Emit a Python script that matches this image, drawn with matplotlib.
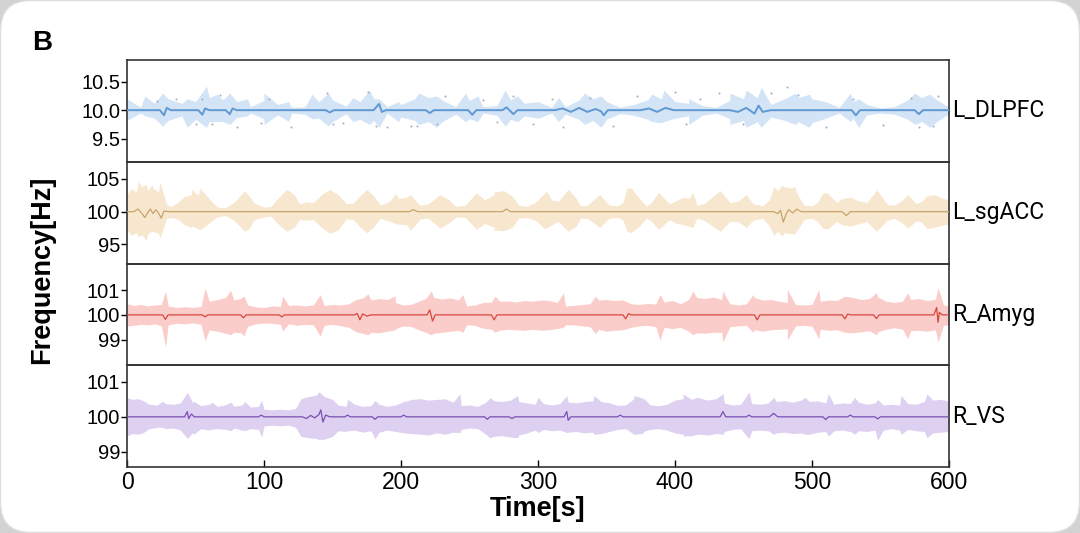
import numpy as np
import matplotlib.pyplot as plt
from matplotlib.patches import FancyBboxPatch
from matplotlib.transforms import IdentityTransform

plt.rcParams['font.family'] = ['Liberation Sans', 'DejaVu Sans']

# ---------------- data (deviation from the mean frequency, Hz) ----------------
regions = ['L_DLPFC', 'L_sgACC', 'R_Amyg', 'R_VS']
centers = [10.0, 100.0, 100.0, 100.0]

# L_DLPFC
dlpfc_t = list(range(0, 601, 10))
dlpfc_hi = [0.20, 0.05, 0.12, 0.20, 0.12, 0.15, 0.22, 0.18, 0.15, 0.06,
            0.17, 0.10, 0.05, 0.06, 0.15, 0.18, 0.07, 0.15, 0.20, 0.06,
            0.10, 0.20, 0.22, 0.18, 0.06, 0.17, 0.06, 0.08, 0.18, 0.12,
            0.15, 0.05, 0.06, 0.18, 0.20, 0.15, 0.05, 0.10, 0.18, 0.20,
            0.15, 0.12, 0.08, 0.05, 0.17, 0.20, 0.22, 0.10, 0.20, 0.22,
            0.20, 0.15, 0.05, 0.15, 0.10, 0.04, 0.06, 0.18, 0.22, 0.20, 0.05]
dlpfc_lo = [0.18, 0.05, 0.14, 0.18, 0.10, 0.16, 0.20, 0.20, 0.13, 0.05,
            0.15, 0.08, 0.05, 0.07, 0.14, 0.20, 0.06, 0.16, 0.18, 0.05,
            0.12, 0.18, 0.20, 0.20, 0.07, 0.15, 0.05, 0.09, 0.16, 0.10,
            0.14, 0.05, 0.07, 0.16, 0.18, 0.16, 0.06, 0.09, 0.16, 0.22,
            0.14, 0.10, 0.09, 0.05, 0.15, 0.18, 0.20, 0.12, 0.18, 0.20,
            0.22, 0.14, 0.05, 0.14, 0.08, 0.05, 0.07, 0.16, 0.20, 0.22, 0.06]
dlpfc_spk_t = [13, 26, 44, 58, 66, 75, 88, 100, 118, 135, 147, 165, 177, 184, 198, 213, 226,
               247, 256, 276, 285, 315, 334, 346, 383, 392, 410, 440, 452, 463, 488, 498,
               528, 534, 575, 586]
dlpfc_spk_hi = [0.25, 0.30, 0.20, 0.42, 0.28, 0.30, 0.20, 0.30, 0.15, 0.28, 0.30, 0.22, 0.35, 0.20,
                0.15, 0.30, 0.25, 0.30, 0.25, 0.35, 0.25, 0.22, 0.30, 0.25, 0.28, 0.35, 0.20,
                0.30, 0.35, 0.40, 0.30, 0.28, 0.30, 0.20, 0.30, 0.28]
dlpfc_spk_lo = [0.10, 0.28, 0.30, 0.30, 0.20, 0.25, 0.10, 0.25, 0.20, 0.15, 0.28, 0.20, 0.25, 0.30,
                0.20, 0.25, 0.30, 0.20, 0.20, 0.28, 0.20, 0.20, 0.25, 0.30, 0.20, 0.20, 0.25,
                0.25, 0.30, 0.30, 0.25, 0.30, 0.20, 0.30, 0.25, 0.30]
dlpfc_mean_t = [0, 24, 27, 29, 32, 52, 55, 57, 60, 72, 75, 77, 80, 145, 148, 151, 180, 184, 186, 189,
                218, 221, 224, 249, 252, 255, 274, 277, 280, 282, 285, 312, 318, 324, 330, 336, 342,
                346, 348, 351, 375, 381, 387, 393, 399, 440, 446, 452, 458, 461, 464, 470, 529, 532,
                535, 575, 578, 581, 600]
dlpfc_mean_v = [0, 0, -0.09, 0.04, 0, 0, -0.08, 0.03, 0, 0, -0.07, 0.03, 0, 0, -0.04, 0, 0, 0.11,
                -0.03, 0, 0, -0.05, 0, 0, -0.08, 0, 0, 0.05, -0.02, -0.07, 0, 0, 0.03, -0.03, 0.04,
                -0.03, 0.02, -0.02, -0.09, 0, 0, 0.03, -0.03, 0.04, 0, 0, -0.03, 0.04, -0.06, 0.08,
                -0.03, 0, 0, -0.09, 0, 0, -0.07, 0, 0]
dlpfc_dot_t = [22, 36, 50, 55, 62, 68, 80, 98, 104, 120, 146, 150, 158, 176, 182, 190, 207, 212,
               226, 232, 260, 270, 282, 296, 310, 318, 338, 355, 372, 400, 408, 418, 432, 450,
               470, 482, 490, 510, 530, 552, 572, 578, 588, 592]
dlpfc_dot_v = [0.16, 0.20, -0.25, 0.20, -0.25, 0.26, -0.30, -0.22, 0.20, -0.30, 0.30, -0.25, -0.22,
               0.32, -0.28, -0.30, -0.28, -0.27, -0.25, 0.25, 0.18, -0.20, 0.25, -0.25, 0.20, -0.30,
               0.22, -0.28, 0.25, 0.32, -0.25, 0.20, 0.30, -0.24, 0.30, 0.40, 0.27, -0.30, 0.20,
               -0.26, 0.22, -0.30, -0.28, 0.25]

# L_sgACC
sgacc_t = [0, 3, 7, 11, 15, 19, 23, 26.5, 29, 33, 37.5, 42, 47, 52, 57, 62, 66, 72, 78, 86,
           93, 100, 105, 110, 116.5, 122, 126, 131, 136, 142, 148, 154, 160, 165, 170, 175, 180,
           185, 192, 198, 204, 210, 214, 220, 228.5, 235, 240, 247, 255, 261, 268, 275, 281, 286,
           292, 298, 305, 310, 315, 322, 328, 331, 336, 345, 352, 358, 362, 368, 374, 379, 382,
           388, 396, 400, 406, 410, 416, 421, 433, 440, 446, 452, 457, 464, 469, 475, 480, 485,
           490, 494, 500, 504, 511, 518, 522, 528, 535, 540, 547, 555, 560, 565, 570, 576, 580,
           589, 596, 600]
sgacc_hi = [2.6, 3.5, 3.0, 3.8, 3.2, 3.6, 3.0, 2.8, 1.0, 0.8, 1.5, 2.3, 2.6, 2.5, 2.7, 1.5, 0.7,
            0.6, 1.4, 3.2, 1.3, 0.7, 0.8, 2.0, 3.4, 2.6, 1.2, 1.5, 1.4, 2.6, 3.4, 2.6, 1.2, 1.3,
            2.4, 3.4, 2.4, 1.0, 1.6, 2.0, 2.2, 1.8, 1.0, 1.2, 2.6, 1.8, 0.8, 1.0, 2.9, 1.8, 2.6,
            3.2, 2.4, 1.0, 0.8, 1.4, 2.9, 1.8, 1.6, 3.4, 2.0, 0.9, 1.0, 2.6, 1.0, 0.9, 1.4, 3.6,
            2.0, 0.9, 1.2, 2.9, 1.2, 1.6, 2.2, 2.0, 1.0, 1.2, 3.2, 1.4, 1.6, 2.6, 1.2, 0.9, 1.8,
            3.2, 3.8, 3.6, 2.4, 1.0, 0.9, 1.4, 2.9, 1.4, 2.0, 2.2, 1.6, 1.4, 3.2, 1.1, 1.0, 1.6,
            2.6, 1.2, 1.6, 2.6, 2.0, 1.8]
sgacc_lo = [2.8, 3.6, 3.2, 3.5, 3.4, 3.0, 3.3, 2.5, 1.0, 0.9, 1.2, 2.0, 2.4, 2.6, 2.2, 1.4, 0.8,
            0.6, 1.3, 3.0, 1.2, 0.8, 0.7, 1.8, 3.0, 2.4, 1.2, 1.3, 1.2, 2.4, 3.3, 2.8, 1.1, 1.2,
            2.3, 3.2, 2.3, 1.0, 1.5, 1.9, 2.0, 2.1, 1.1, 1.0, 2.5, 1.7, 0.8, 0.9, 2.7, 1.8, 2.4,
            2.9, 2.4, 1.0, 0.9, 1.3, 2.6, 2.0, 1.5, 3.0, 2.2, 1.0, 1.0, 2.4, 1.0, 0.9, 1.3, 3.2,
            2.2, 1.0, 1.3, 2.7, 1.2, 1.7, 2.0, 2.2, 1.0, 1.3, 3.0, 1.5, 1.5, 2.4, 1.3, 1.0, 2.2,
            3.0, 3.2, 3.4, 2.6, 1.2, 1.0, 1.5, 2.7, 1.5, 2.0, 2.2, 1.8, 1.5, 3.0, 1.3, 1.0, 1.6,
            2.5, 1.4, 1.6, 2.4, 2.0, 1.9]
sgacc_spk_t = [8, 14, 18, 24, 47, 53, 89, 196, 207, 268, 306, 365, 413, 472, 478, 487, 508, 547, 584]
sgacc_spk_hi = [4.6, 4.2, 4.0, 4.5, 3.4, 3.6, 2.4, 2.8, 2.6, 3.0, 3.2, 3.6, 2.9, 3.8, 4.0, 3.9,
                2.8, 3.4, 2.4]
sgacc_spk_lo = [3.8, 4.4, 3.0, 4.0, 2.2, 2.8, 2.6, 1.8, 2.8, 2.8, 2.5, 3.0, 2.4, 3.6, 3.7, 3.4,
                2.5, 3.0, 2.6]
sgacc_mean_t = [0, 5, 8, 11, 13, 15, 17, 19, 21, 23, 25, 27, 30, 206, 209, 212, 274, 277, 280,
                472, 475, 477, 479, 481, 483, 486, 489, 492, 495, 522, 525, 528, 600]
sgacc_mean_v = [0, 0, 0.4, -0.3, -0.9, -0.2, 0.4, -0.3, 0.3, -0.2, -1.0, 0.1, 0, 0, 0.3, 0, 0,
                0.4, 0, 0, -0.3, 0.2, -1.6, -0.4, 0.3, -0.2, 0.4, 0, 0, 0, -0.6, 0, 0]

# R_Amyg
amyg_t = [0, 5, 10, 15, 20, 25, 30, 36, 42, 48, 54, 60, 66, 72, 78, 83, 88, 94, 100, 106, 112,
          118, 124, 130, 136, 144, 150, 156, 162, 167, 172, 178, 184, 190, 196, 201, 207, 213,
          218, 224, 230, 236, 242, 248, 254, 260, 266, 272, 278, 284, 290, 296, 302, 308, 314,
          320, 326, 332, 338, 344, 350, 356, 362, 368, 374, 380, 386, 392, 398, 404, 410, 416,
          422, 428, 434, 440, 446, 452, 458, 464, 470, 476, 482, 488, 494, 500, 506, 512, 518,
          524, 530, 536, 542, 548, 554, 560, 566, 572, 578, 584, 590, 596, 600]
amyg_hi = [0.45, 0.38, 0.42, 0.36, 0.40, 0.42, 0.36, 0.30, 0.33, 0.30, 0.34, 0.55, 0.62, 0.70,
           0.60, 0.66, 0.40, 0.32, 0.30, 0.36, 0.34, 0.38, 0.40, 0.36, 0.40, 0.38, 0.42, 0.40,
           0.45, 0.62, 0.68, 0.60, 0.66, 0.62, 0.50, 0.40, 0.42, 0.55, 0.66, 0.70, 0.64, 0.68,
           0.60, 0.36, 0.40, 0.50, 0.52, 0.55, 0.56, 0.52, 0.58, 0.55, 0.60, 0.58, 0.50, 0.36,
           0.38, 0.42, 0.45, 0.60, 0.62, 0.58, 0.60, 0.45, 0.42, 0.46, 0.44, 0.52, 0.58, 0.45,
           0.62, 0.70, 0.66, 0.72, 0.62, 0.45, 0.40, 0.44, 0.70, 0.60, 0.62, 0.55, 0.50, 0.42,
           0.40, 0.42, 0.55, 0.60, 0.58, 0.75, 0.70, 0.62, 0.66, 0.72, 0.55, 0.50, 0.55, 0.62,
           0.66, 0.58, 0.62, 0.40, 0.36]
amyg_lo = [0.45, 0.42, 0.38, 0.40, 0.36, 0.44, 0.40, 0.34, 0.36, 0.32, 0.38, 0.60, 0.66, 0.74,
           0.70, 0.72, 0.46, 0.36, 0.33, 0.34, 0.38, 0.36, 0.42, 0.38, 0.40, 0.42, 0.38, 0.44,
           0.50, 0.68, 0.74, 0.70, 0.72, 0.66, 0.56, 0.45, 0.46, 0.60, 0.70, 0.74, 0.70, 0.66,
           0.62, 0.40, 0.42, 0.54, 0.58, 0.62, 0.58, 0.60, 0.62, 0.58, 0.62, 0.60, 0.55, 0.40,
           0.40, 0.44, 0.48, 0.58, 0.66, 0.62, 0.60, 0.50, 0.44, 0.42, 0.48, 0.50, 0.55, 0.50,
           0.66, 0.72, 0.74, 0.70, 0.70, 0.48, 0.44, 0.42, 0.60, 0.66, 0.60, 0.58, 0.56, 0.44,
           0.42, 0.46, 0.58, 0.62, 0.60, 0.70, 0.72, 0.68, 0.64, 0.68, 0.58, 0.52, 0.58, 0.64,
           0.62, 0.66, 0.60, 0.42, 0.40]
amyg_spk_t = [28.2, 57, 75.5, 85.4, 113.6, 141, 176, 195.6, 222, 245, 268.6, 318.6, 342, 389,
              413, 435, 457, 482, 505, 547, 570, 592]
amyg_spk_hi = [0.95, 1.08, 1.00, 0.76, 0.76, 0.82, 0.85, 0.76, 0.96, 0.82, 0.76, 0.89, 0.76, 0.82,
               0.96, 0.96, 0.82, 1.02, 1.02, 0.90, 0.89, 1.10]
amyg_spk_lo = [1.28, 1.05, 0.80, 0.85, 0.65, 0.85, 0.80, 0.60, 0.80, 0.70, 0.70, 0.50, 0.76, 1.02,
               0.80, 1.09, 0.70, 1.02, 0.96, 0.80, 0.96, 1.09]
amyg_mean_t = [0, 26, 28, 30, 55, 57, 59, 83, 85, 87, 111, 113, 115, 166, 168, 170, 172, 175, 178,
               219, 221, 223, 225, 266, 268, 270, 362, 364, 366, 368, 458, 460, 462, 522, 524, 526,
               528, 545, 547, 549, 589, 591, 592, 593, 595, 600]
amyg_mean_v = [0, 0, -0.18, 0, 0, -0.08, 0, 0, -0.12, 0, 0, -0.08, 0, 0, 0.06, -0.2, 0.04, -0.05,
               0, 0, 0.2, -0.25, 0, 0, -0.2, 0, 0, -0.16, 0.05, 0, 0, -0.2, 0, 0, -0.16, 0.03, 0,
               0, -0.15, 0, 0, 0.3, -0.3, 0.1, 0, 0]

# R_VS
vs_t = [0, 4, 8, 12, 16, 22, 28, 34, 39, 44, 48, 54, 60, 66, 72, 78, 84, 90, 96, 100, 106, 112,
        118, 123, 127, 132, 138, 144, 150, 154, 160, 166, 172, 178, 184, 190, 196, 202, 208, 214,
        220, 226, 232, 238, 244, 250, 256, 262, 268, 274, 280, 286, 292, 298, 304, 310, 316, 322,
        328, 334, 340, 346, 352, 358, 364, 370, 376, 382, 388, 394, 400, 406, 412, 418, 424, 430,
        436, 442, 448, 456, 462, 468, 474, 480, 486, 492, 498, 504, 510, 516, 522, 528, 534, 540,
        546, 552, 558, 564, 570, 576, 582, 588, 594, 600]
vs_hi = [0.55, 0.50, 0.52, 0.46, 0.36, 0.34, 0.38, 0.36, 0.40, 0.70, 0.40, 0.32, 0.36, 0.30, 0.35,
         0.30, 0.34, 0.28, 0.30, 0.22, 0.20, 0.22, 0.20, 0.24, 0.52, 0.58, 0.62, 0.58, 0.50, 0.34,
         0.30, 0.36, 0.30, 0.32, 0.36, 0.30, 0.34, 0.44, 0.50, 0.52, 0.48, 0.50, 0.52, 0.42, 0.32,
         0.34, 0.30, 0.42, 0.46, 0.44, 0.48, 0.44, 0.40, 0.36, 0.38, 0.34, 0.38, 0.42, 0.40, 0.44,
         0.46, 0.44, 0.40, 0.33, 0.34, 0.52, 0.54, 0.34, 0.32, 0.36, 0.48, 0.52, 0.50, 0.54, 0.48,
         0.52, 0.40, 0.34, 0.36, 0.38, 0.36, 0.40, 0.44, 0.46, 0.42, 0.48, 0.44, 0.46, 0.40, 0.36,
         0.40, 0.38, 0.42, 0.36, 0.40, 0.34, 0.36, 0.34, 0.38, 0.36, 0.44, 0.48, 0.50, 0.45]
vs_lo = [0.55, 0.48, 0.50, 0.45, 0.34, 0.30, 0.34, 0.32, 0.38, 0.62, 0.45, 0.34, 0.38, 0.34, 0.36,
         0.32, 0.38, 0.34, 0.36, 0.26, 0.24, 0.26, 0.24, 0.30, 0.56, 0.60, 0.62, 0.64, 0.56, 0.40,
         0.42, 0.38, 0.44, 0.40, 0.44, 0.38, 0.42, 0.46, 0.48, 0.50, 0.52, 0.46, 0.50, 0.44, 0.36,
         0.32, 0.34, 0.50, 0.56, 0.54, 0.58, 0.52, 0.46, 0.38, 0.36, 0.40, 0.38, 0.44, 0.42, 0.46,
         0.44, 0.48, 0.42, 0.36, 0.34, 0.50, 0.48, 0.36, 0.34, 0.38, 0.46, 0.50, 0.54, 0.50, 0.52,
         0.48, 0.42, 0.36, 0.34, 0.40, 0.38, 0.40, 0.46, 0.44, 0.48, 0.46, 0.50, 0.44, 0.42, 0.40,
         0.38, 0.42, 0.40, 0.42, 0.38, 0.38, 0.34, 0.38, 0.36, 0.40, 0.42, 0.46, 0.44, 0.42]
vs_spk_t = [26, 48.5, 62, 76, 86, 98.3, 140, 161, 181, 243, 265, 285, 300, 321, 341, 370, 378,
            406, 416, 435, 454, 472, 495, 512, 531, 548, 565, 584]
vs_spk_hi = [0.45, 0.45, 0.42, 0.42, 0.44, 0.47, 0.72, 0.50, 0.47, 0.66, 0.55, 0.61, 0.56, 0.61,
             0.61, 0.61, 0.50, 0.66, 0.56, 0.66, 0.71, 0.56, 0.56, 0.66, 0.56, 0.50, 0.61, 0.66]
vs_spk_lo = [0.30, 0.50, 0.35, 0.40, 0.40, 0.58, 0.65, 0.40, 0.63, 0.45, 0.60, 0.60, 0.45, 0.45,
             0.50, 0.50, 0.40, 0.55, 0.50, 0.50, 0.63, 0.50, 0.50, 0.55, 0.50, 0.67, 0.50, 0.60]
vs_mean_t = [0, 42, 44, 45, 47, 49, 96, 98, 100, 128, 131, 134, 137, 140, 141.5, 143, 145, 148,
             159, 161, 163, 179, 181, 183, 200, 202, 204, 261, 263, 265, 279, 281, 283, 319, 321,
             322, 324, 358, 360, 362, 433, 435, 437, 452, 454, 456, 469, 472, 475, 508, 510, 512,
             526, 528, 530, 546, 548, 550, 600]
vs_mean_v = [0, 0, 0.15, -0.05, 0.08, 0, 0, 0.05, 0, 0, -0.05, 0.04, -0.03, 0.06, 0.2, -0.15,
             0.05, 0, 0, 0.05, 0, 0, -0.07, 0, 0, 0.05, 0, 0, -0.07, 0, 0, -0.05, 0, 0, 0.15,
             -0.1, 0, 0, 0.05, 0, 0, 0.15, 0, 0, 0.05, 0, 0, 0.1, 0, 0, -0.08, 0, 0, 0.05, 0, 0,
             -0.06, 0, 0]

yticks = [[9.5, 10.0, 10.5], [95, 100, 105], [99, 100, 101], [99, 100, 101]]
ylims = [(9.095, 10.88), (92.1, 107.6), (97.97, 102.07), (98.56, 101.48)]
band_colors = ['#d3e4f6', '#f8e7cf', '#fbcdca', '#ddd0f0']
line_colors = ['#5f98d2', '#c9a468', '#d9453f', '#7a4fb5']


def merge(t, hi, lo, st, shi, slo):
    tt = np.concatenate([t, st])
    hh = np.concatenate([hi, shi])
    ll = np.concatenate([lo, slo])
    order = np.argsort(tt, kind='stable')
    return tt[order], hh[order], ll[order]


bands = [
    merge(dlpfc_t, dlpfc_hi, dlpfc_lo, dlpfc_spk_t, dlpfc_spk_hi, dlpfc_spk_lo),
    merge(sgacc_t, sgacc_hi, sgacc_lo, sgacc_spk_t, sgacc_spk_hi, sgacc_spk_lo),
    merge(amyg_t, amyg_hi, amyg_lo, amyg_spk_t, amyg_spk_hi, amyg_spk_lo),
    merge(vs_t, vs_hi, vs_lo, vs_spk_t, vs_spk_hi, vs_spk_lo),
]
means = [(dlpfc_mean_t, dlpfc_mean_v), (sgacc_mean_t, sgacc_mean_v),
         (amyg_mean_t, amyg_mean_v), (vs_mean_t, vs_mean_v)]

fig, axes = plt.subplots(4, 1, sharex=True, figsize=(10.8, 5.33), dpi=100)
fig.patch.set_facecolor('#d2d2d2')
card = FancyBboxPatch((0.5, 0.5), 1079, 532, boxstyle='round,pad=0,rounding_size=30',
                      transform=IdentityTransform(), facecolor='white', edgecolor='#dddddd',
                      linewidth=1, zorder=-10)
fig.patches.append(card)
fig.subplots_adjust(left=0.1176, right=0.8787, top=0.8874, bottom=0.1238, hspace=0)

for i, ax in enumerate(axes):
    c = centers[i]
    tt, hh, ll = bands[i]
    ax.fill_between(tt, c + hh, c - ll, color=band_colors[i], linewidth=0)
    if i == 0:
        ax.scatter(dlpfc_dot_t, c + np.array(dlpfc_dot_v), s=2.2, color='#a3b1c2',
                   zorder=3, linewidths=0)
    mt, mv = means[i]
    ax.plot(mt, c + np.array(mv), color=line_colors[i], linewidth=1.4 if i == 0 else 0.9, zorder=4)
    ax.set_ylim(*ylims[i])
    ax.set_yticks(yticks[i])
    if i == 0:
        ax.set_yticklabels(['%.1f' % v for v in yticks[i]])
    ax.set_xlim(0, 600)
    ax.set_facecolor('none')
    for sp in ax.spines.values():
        sp.set_color('#333333')
        sp.set_linewidth(1.2)
    ax.tick_params(axis='y', direction='out', length=4, width=1, labelsize=14.5, pad=1)
    ax.tick_params(axis='x', direction='in', length=0)
    ax.text(1.004, 0.5, regions[i], transform=ax.transAxes, ha='left', va='center',
            fontsize=16.5, family=['Roboto', 'DejaVu Sans'])

axes[-1].set_xticks([0, 100, 200, 300, 400, 500, 600])
axes[-1].tick_params(axis='x', direction='in', length=5, width=1, labelsize=16.5, pad=3)
axes[-1].set_xlabel('Time[s]', fontsize=19.5, fontweight='bold', labelpad=1)
fig.text(0.039, 0.493, 'Frequency[Hz]', rotation=90, ha='center', va='center',
         fontsize=19.5, fontweight='bold')
fig.text(0.030, 0.919, 'B', ha='left', va='center', fontsize=20, fontweight='bold')

plt.savefig('out.png', dpi=100, facecolor=fig.get_facecolor())
